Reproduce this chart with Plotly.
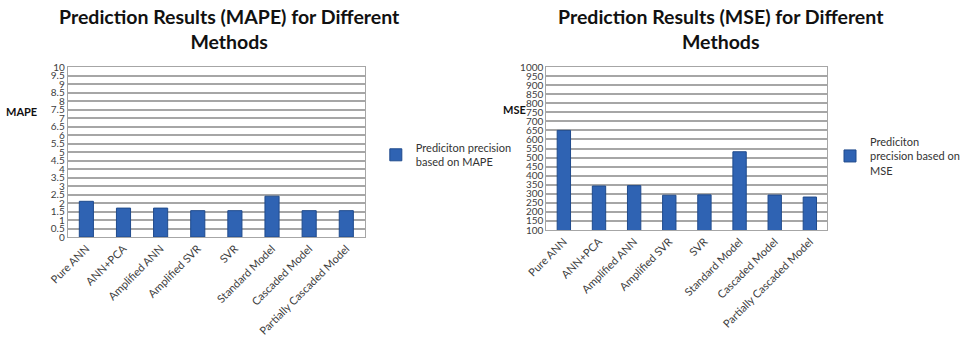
import plotly.graph_objects as go

methods = ["Pure ANN", "ANN+PCA", "Amplified ANN", "Amplified SVR", "SVR",
           "Standard Model", "Cascaded Model", "Partially Cascaded Model"]
mape_values = [2.1, 1.7, 1.7, 1.55, 1.55, 2.4, 1.55, 1.55]
mse_values = [650, 343, 345, 292, 294, 532, 293, 282]

mape_ticks = [i * 0.5 for i in range(21)]
mse_ticks = list(range(100, 1001, 50))

FONT = "Lato, Open Sans, sans-serif"
BAR = "#2f63b3"
BAR_EDGE = "#1f4a8c"
GRID = "#a6a6a6"

W, H = 965, 341


def px_x(v):
    return v / W


def px_y(v):
    return 1 - v / H


fig = go.Figure()

fig.add_trace(go.Bar(
    x=methods, y=mape_values, width=0.38,
    name="Prediciton precision<br>based on MAPE",
    marker=dict(color=BAR, line=dict(color=BAR_EDGE, width=1)),
    xaxis="x", yaxis="y", legend="legend",
))
fig.add_trace(go.Bar(
    x=methods, y=mse_values, width=0.38,
    name="Prediciton<br>precision based on<br>MSE",
    marker=dict(color=BAR, line=dict(color=BAR_EDGE, width=1)),
    xaxis="x2", yaxis="y2", legend="legend2",
))

xtick_font = dict(family=FONT, size=11, color="#404040")
ytick_font = dict(family=FONT, size=10, color="#404040")
common_x = dict(tickangle=-45, tickfont=xtick_font, showgrid=False,
                showline=True, linecolor=GRID, mirror=True, ticks="",
                automargin=False, fixedrange=True)
common_y = dict(tickfont=ytick_font, showgrid=True, gridcolor=GRID, gridwidth=1.5,
                showline=True, linecolor=GRID, mirror=True, zeroline=False,
                ticks="", automargin=False, fixedrange=True)

legend_font = dict(family=FONT, size=11, color="#333333")

fig.update_layout(
    width=W, height=H,
    margin=dict(l=0, r=0, t=0, b=0),
    paper_bgcolor="white", plot_bgcolor="white",
    font=dict(family=FONT, color="#333333"),
    showlegend=True,
    xaxis=dict(domain=[px_x(68), px_x(366)], anchor="y", **common_x),
    yaxis=dict(domain=[px_y(237), px_y(67)], anchor="x", range=[0, 10],
               tickvals=mape_ticks, ticktext=[f"{t:g}" for t in mape_ticks],
               **common_y),
    xaxis2=dict(domain=[px_x(548), px_x(830)], anchor="y2", **common_x),
    yaxis2=dict(domain=[px_y(230), px_y(67)], anchor="x2", range=[100, 1000],
                tickvals=mse_ticks, **common_y),
    legend=dict(x=px_x(377), y=px_y(134), xanchor="left", yanchor="top",
                font=legend_font, bgcolor="rgba(0,0,0,0)", itemwidth=30),
    legend2=dict(x=px_x(833), y=px_y(128), xanchor="left", yanchor="top",
                 font=legend_font, bgcolor="rgba(0,0,0,0)", itemwidth=30),
    bargap=0.62,
)

title_font = dict(family=FONT, size=19.5, color="#111111")
fig.add_annotation(text="<b>Prediction Results (MAPE) for Different<br>Methods</b>",
                   x=px_x(230), y=px_y(29), xref="paper", yref="paper",
                   xanchor="center", yanchor="middle",
                   showarrow=False, font=title_font, align="center")
fig.add_annotation(text="<b>Prediction Results (MSE) for Different<br>Methods</b>",
                   x=px_x(723), y=px_y(29), xref="paper", yref="paper",
                   xanchor="center", yanchor="middle",
                   showarrow=False, font=title_font, align="center")

axis_title_font = dict(family=FONT, size=11, color="#111111")
fig.add_annotation(text="<b>MAPE</b>", x=px_x(22), y=px_y(112), xref="paper",
                   yref="paper", xanchor="center", yanchor="middle",
                   showarrow=False, font=axis_title_font)
fig.add_annotation(text="<b>MSE</b>", x=px_x(516), y=px_y(110), xref="paper",
                   yref="paper", xanchor="center", yanchor="middle",
                   showarrow=False, font=axis_title_font)

fig.write_html("out.html")
